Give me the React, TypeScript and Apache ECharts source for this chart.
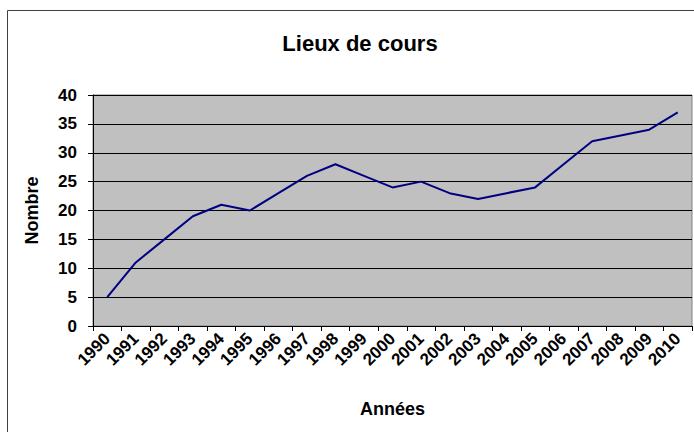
import React, { useEffect, useRef } from "react";
import * as echarts from "echarts";

const years = ["1990","1991","1992","1993","1994","1995","1996","1997","1998","1999","2000","2001","2002","2003","2004","2005","2006","2007","2008","2009","2010"];
const counts = [5, 11, 15, 19, 21, 20, 23, 26, 28, 26, 24, 25, 23, 22, 23, 24, 28, 32, 33, 34, 37];
const yTicks = { min: 0, max: 40, interval: 5 };
const titleText = "Lieux de cours";
const xName = "Années";
const yName = "Nombre";

const FONT = "'Liberation Sans', Arial, sans-serif";

export default function App() {
  const ref = useRef<HTMLDivElement>(null);
  useEffect(() => {
    document.body.style.margin = "0";
    const chart = echarts.init(ref.current!, null, { renderer: "svg" });
    chart.setOption({
      animation: false,
      backgroundColor: "#ffffff",
      textStyle: { fontFamily: FONT },
      title: {
        text: titleText,
        left: 355,
        top: 27,
        textAlign: "center",
        textStyle: { fontFamily: FONT, fontSize: 22, fontWeight: "bold", color: "#000" },
      },
      graphic: [
        {
          type: "rect",
          shape: { x: 7.5, y: 10.5, width: 720, height: 500 },
          style: { fill: "none", stroke: "#404040", lineWidth: 1 },
          silent: true,
          z: 100,
        },
      ],
      grid: {
        left: 93,
        right: 2,
        top: 95,
        bottom: 106,
        show: true,
        backgroundColor: "#C0C0C0",
        borderColor: "#808080",
        borderWidth: 1,
      },
      xAxis: {
        type: "category",
        data: years,
        boundaryGap: true,
        name: xName,
        nameLocation: "middle",
        nameGap: 74,
        nameTextStyle: { fontFamily: FONT, fontSize: 18, fontWeight: "bold", color: "#000" },
        axisLine: { lineStyle: { color: "#000", width: 1 } },
        axisTick: { show: true, length: 5, alignWithLabel: false, lineStyle: { color: "#000" } },
        axisLabel: {
          rotate: 45,
          margin: 10,
          interval: 0,
          fontFamily: FONT,
          fontSize: 17,
          fontWeight: "bold",
          color: "#000",
        },
        splitLine: { show: false },
      },
      yAxis: {
        type: "value",
        min: yTicks.min,
        max: yTicks.max,
        interval: yTicks.interval,
        name: yName,
        nameLocation: "middle",
        nameGap: 52,
        nameTextStyle: { fontFamily: FONT, fontSize: 18, fontWeight: "bold", color: "#000" },
        axisLine: { show: true, lineStyle: { color: "#000", width: 1 } },
        axisTick: { show: true, length: 5, lineStyle: { color: "#000" } },
        axisLabel: {
          margin: 16,
          fontFamily: FONT,
          fontSize: 17,
          fontWeight: "bold",
          color: "#000",
        },
        splitLine: { show: true, lineStyle: { color: "#000", width: 1 } },
      },
      series: [
        {
          type: "line",
          data: counts,
          symbol: "none",
          lineStyle: { color: "#000080", width: 2 },
          itemStyle: { color: "#000080" },
        },
      ],
    });
    return () => chart.dispose();
  }, []);
  return <div ref={ref} style={{ width: 694, height: 432 }} />;
}
